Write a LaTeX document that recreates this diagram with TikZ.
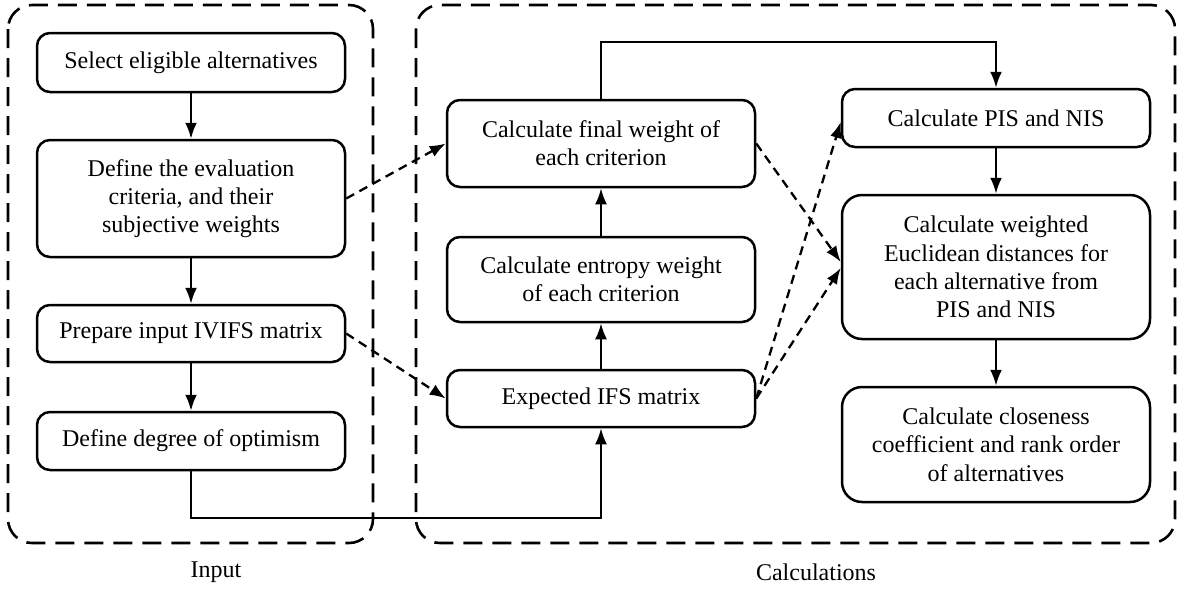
\documentclass[tikz,border=0pt]{standalone}
\usepackage{fontspec}
\setmainfont{Liberation Serif}
\usetikzlibrary{arrows.meta}
\begin{document}
\begin{tikzpicture}[x=1pt,y=-1pt,
  box/.style={draw, line width=2.5pt, rounded corners=13pt, minimum width=308pt, inner sep=0pt, align=center, font=\fontsize{24}{28.3}\selectfont},
  bigbox/.style={box, rounded corners=20pt},
  frame/.style={draw, line width=2.6pt, rounded corners=24pt, dash pattern=on 19pt off 10pt},
  arr/.style={line width=2.3pt, -{Latex[length=16pt,width=12pt]}},
  darr/.style={arr, dash pattern=on 9pt off 6pt},
  lab/.style={font=\fontsize{24}{28.3}\selectfont}]
\useasboundingbox (0,0) rectangle (1177,592);
% frames
\draw[frame] (8,5) rectangle (373,543);
\draw[frame] (416,5) rectangle (1175,543);
\node[lab] (inlab) at (216,572) {Input};
\node[lab] (calclab) at (816,572) {Calculations};
% left column
\node[box, minimum height=59pt] (sel) at (191,62.5) {Select eligible alternatives};
\node[box, minimum height=117pt] (def) at (191,198.5) {Define the evaluation\\criteria, and their\\subjective weights};
\node[box, minimum height=57pt] (prep) at (191,333.5) {Prepare input IVIFS matrix};
\node[box, minimum height=58pt] (opt) at (191,441) {Define degree of optimism};
% middle column
\node[box, minimum height=87pt] (final) at (601,143.5) {Calculate final weight of\\each criterion};
\node[box, minimum height=85pt] (ent) at (601,279.5) {Calculate entropy weight\\of each criterion};
\node[box, minimum height=57pt] (exp) at (601,398.5) {Expected IFS matrix};
% right column
\node[box, minimum height=58pt] (pis) at (996,118) {Calculate PIS and NIS};
\node[bigbox, minimum height=144pt] (wtd) at (996,267) {Calculate weighted\\Euclidean distances for\\each alternative from\\PIS and NIS};
\node[bigbox, minimum height=115pt] (clo) at (996,444.5) {Calculate closeness\\coefficient and rank order\\of alternatives};
% solid connectors
\draw[arr] (sel) -- (def);
\draw[arr] (def) -- (prep);
\draw[arr] (prep) -- (opt);
\draw[arr] (exp) -- (ent);
\draw[arr] (ent) -- (final);
\draw[arr] (pis) -- (wtd);
\draw[arr] (wtd) -- (clo);
\coordinate (bot) at (601,518);
\coordinate (top) at (601,42);
\draw[arr] (opt.south) |- (bot) -- (exp.south);
\draw[arr] (final.north) -- (top) -| (pis.north);
% dashed connectors
\draw[darr] (def.east) -- (final.west);
\draw[darr] (prep.east) -- (exp.west);
\draw[darr] (final.east) -- ([yshift=5pt]wtd.west);
\draw[darr] (exp.east) -- ([yshift=-4pt]pis.west);
\draw[darr] (exp.east) -- ([yshift=-1pt]wtd.west);
\end{tikzpicture}
\end{document}
